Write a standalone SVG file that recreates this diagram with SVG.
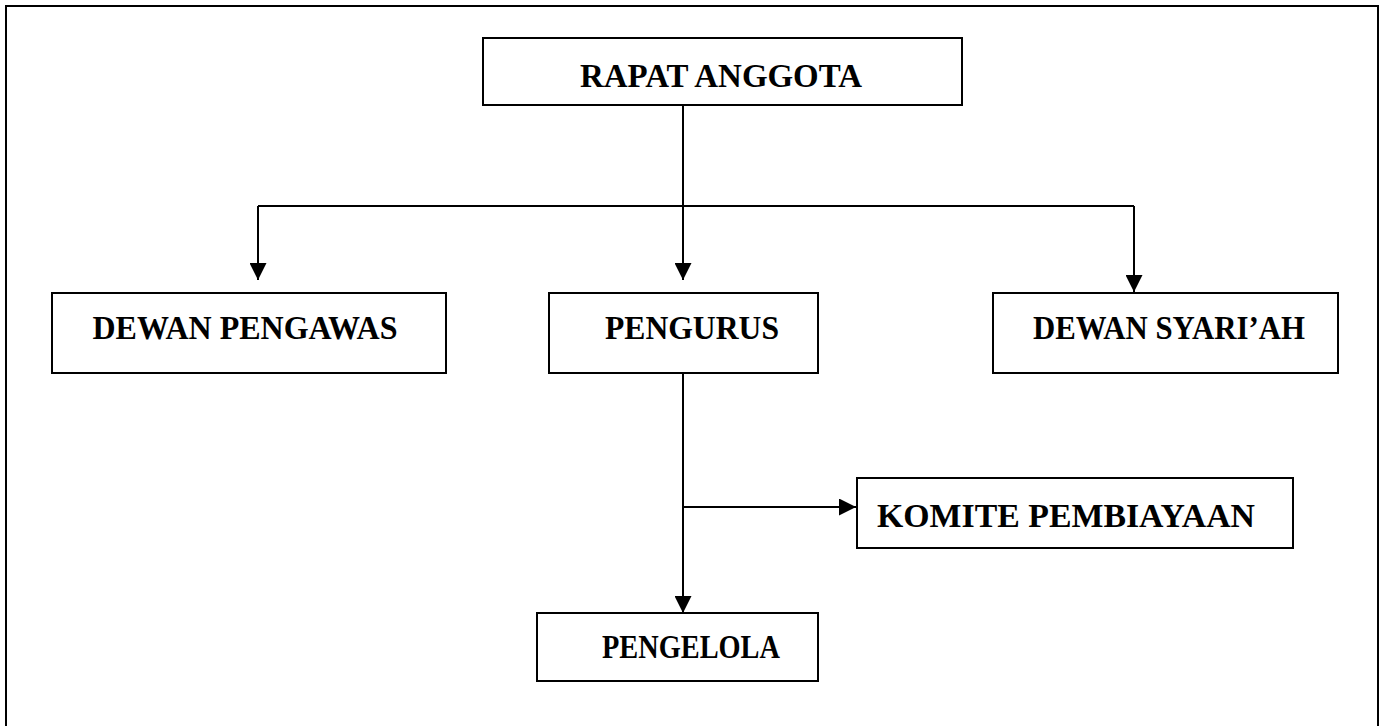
<svg xmlns="http://www.w3.org/2000/svg" width="1380" height="726" viewBox="0 0 1380 726">
<style>
.box{fill:#fff;stroke:#000;stroke-width:2}
.lbl{font-family:"Liberation Serif","Times New Roman",serif;font-weight:bold;font-size:33px;fill:#000;text-anchor:middle}
.con{fill:none;stroke:#000;stroke-width:2}
</style>
<defs>
<marker id="ah" viewBox="0 0 10 10" refX="10" refY="5" markerWidth="17" markerHeight="17" markerUnits="userSpaceOnUse" orient="auto">
<path d="M0,0 L10,5 L0,10 Z" fill="#000"/>
</marker>
</defs>
<rect width="1380" height="726" fill="#fff"/>
<path d="M6,726 V6 H1378 V726" fill="none" stroke="#000" stroke-width="2"/>
<g id="connectors">
<path class="con" d="M683,105 V206"/>
<path class="con" d="M258,206 H1134"/>
<path class="con" d="M258,206 V280" marker-end="url(#ah)"/>
<path class="con" d="M683,206 V280" marker-end="url(#ah)"/>
<path class="con" d="M1134,206 V292" marker-end="url(#ah)"/>
<path class="con" d="M683,373 V613" marker-end="url(#ah)"/>
<path class="con" d="M683,507 H856" marker-end="url(#ah)"/>
</g>
<g id="rapat-anggota"><rect class="box" x="483" y="38" width="479" height="67"/><text class="lbl" x="721" y="87" font-size="34" textLength="282" lengthAdjust="spacingAndGlyphs">RAPAT ANGGOTA</text></g>
<g id="dewan-pengawas"><rect class="box" x="52" y="293" width="394" height="80"/><text class="lbl" x="245" y="339" textLength="305" lengthAdjust="spacingAndGlyphs">DEWAN PENGAWAS</text></g>
<g id="pengurus"><rect class="box" x="549" y="293" width="269" height="80"/><text class="lbl" x="692" y="339" textLength="174" lengthAdjust="spacingAndGlyphs">PENGURUS</text></g>
<g id="dewan-syariah"><rect class="box" x="993" y="293" width="345" height="80"/><text class="lbl" x="1169" y="339" textLength="272" lengthAdjust="spacingAndGlyphs">DEWAN SYARI’AH</text></g>
<g id="komite-pembiayaan"><rect class="box" x="857" y="478" width="436" height="70"/><text class="lbl" x="1066" y="527" textLength="378" lengthAdjust="spacingAndGlyphs">KOMITE PEMBIAYAAN</text></g>
<g id="pengelola"><rect class="box" x="537" y="613" width="281" height="68"/><text class="lbl" x="691" y="658" textLength="178" lengthAdjust="spacingAndGlyphs">PENGELOLA</text></g>
</svg>
